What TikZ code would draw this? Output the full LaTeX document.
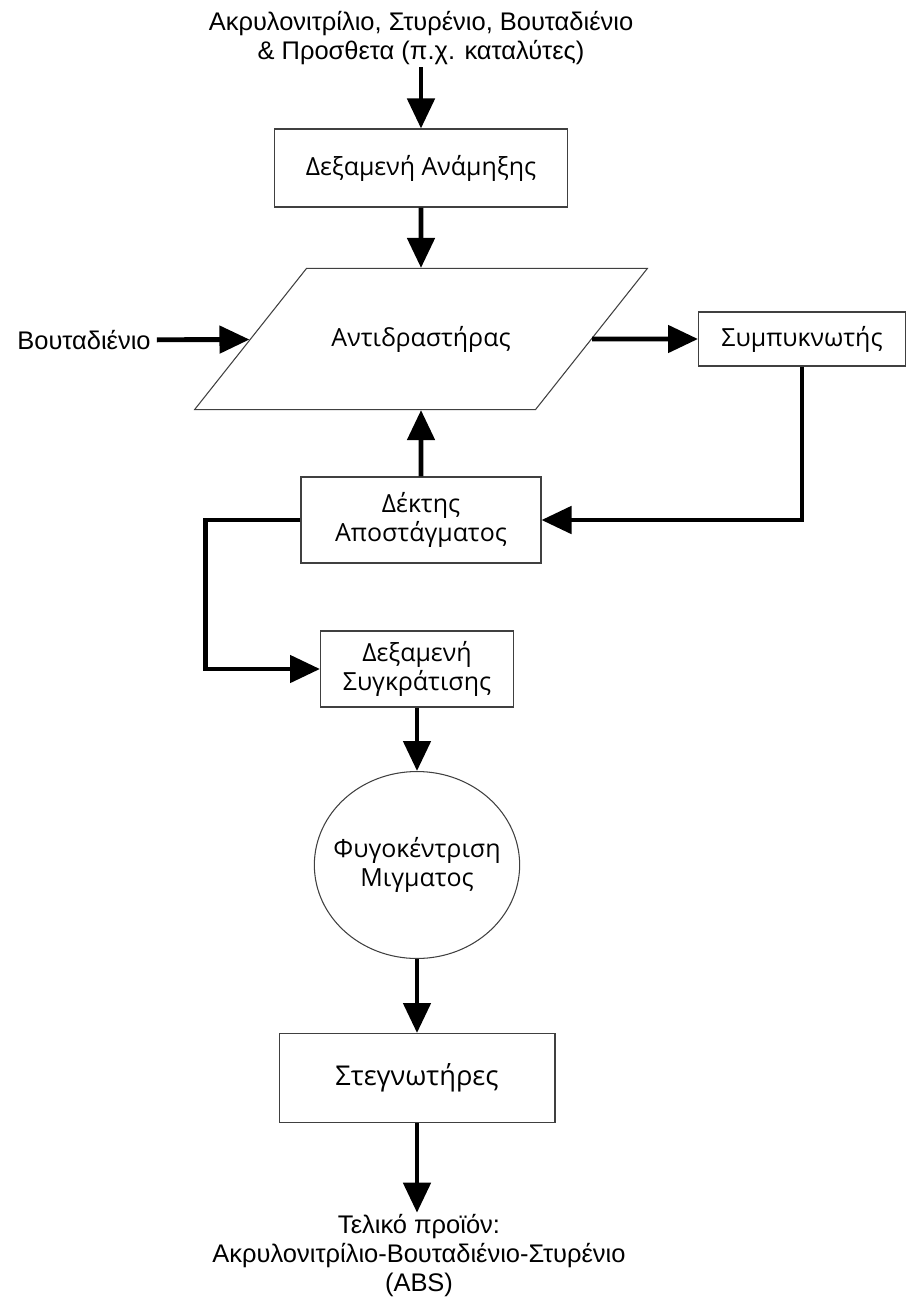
\documentclass[tikz,border=0pt]{standalone}
\usepackage{fontspec}
\setmainfont{Liberation Sans}
\newfontfamily\opensans{Open Sans}
\usetikzlibrary{arrows.meta,shapes.geometric}

\begin{document}
\begin{tikzpicture}[x=0.02cm,y=-0.02cm,
	font=\fontsize{14.5}{17}\selectfont,
	box/.style={draw=black!75,line width=0.6pt,fill=white,align=center,inner sep=2pt,font=\opensans\fontsize{14.2}{16.5}\selectfont},
	flow/.style={line width=2.8pt,-{Triangle[length=0.6cm,width=0.54cm]}}]
			\useasboundingbox (0,0) rectangle (907,1299);
			% feed and mixing
			\node[align=center,inner sep=1pt] (feed) at (421,38) {Ακρυλονιτρίλιο, Στυρένιο, Βουταδιένιο\\\& Προσθετα (π.χ. καταλύτες)};
			\node[box,minimum width=5.86cm,minimum height=1.56cm] (mix) at (421,168) {Δεξαμενή Ανάμηξης};
			\draw[flow] (feed) -- (mix);
			% reactor
			\node[box,trapezium,trapezium left angle=51.6,trapezium right angle=128.4,trapezium stretches body,inner xsep=0.5cm,inner ysep=1.15cm,minimum width=9.04cm] (reactor) at (421,339) {Αντιδραστήρας};
			\draw[flow] (mix) -- (reactor);
			\node (bout) at (84,340) {Βουταδιένιο};
			\draw[flow] (bout) -- (reactor);
			\node[box,minimum width=4.14cm,minimum height=1.08cm] (cond) at (802,339) {Συμπυκνωτής};
			\draw[flow] (reactor) -- (cond);
			% distillate
			\node[box,minimum width=4.8cm,minimum height=1.72cm] (recv) at (421,520) {Δέκτης\\Αποστάγματος};
			\draw[flow] (cond) |- (recv);
			\draw[flow] (recv) -- (reactor);
			\node[box,minimum width=3.86cm,minimum height=1.52cm] (hold) at (417,669) {Δεξαμενή\\Συγκράτισης};
			\draw[flow] (recv.west) -- ++(-95,0) |- (hold);
			% centrifuge and dryers
			\node[box,ellipse,inner xsep=-0.22cm,inner ysep=0pt,minimum width=4cm,minimum height=3.74cm] (centr) at (417,865) {Φυγοκέντριση\\Μιγματος};
			\draw[flow] (hold) -- (centr);
			\node[box,font=\opensans\fontsize{15.5}{18}\selectfont,minimum width=5.52cm,minimum height=1.78cm] (dryer) at (417,1078) {Στεγνωτήρες};
			\draw[flow] (centr) -- (dryer);
			\node[align=center,inner sep=1pt,font=\fontsize{14.5}{16.5}\selectfont] (product) at (419,1256) {Τελικό προϊόν:\\Ακρυλονιτρίλιο-Βουταδιένιο-Στυρένιο\\(ABS)};
			\draw[flow] (dryer.south) -- (dryer.south |- product.north);
		\end{tikzpicture}
\end{document}
